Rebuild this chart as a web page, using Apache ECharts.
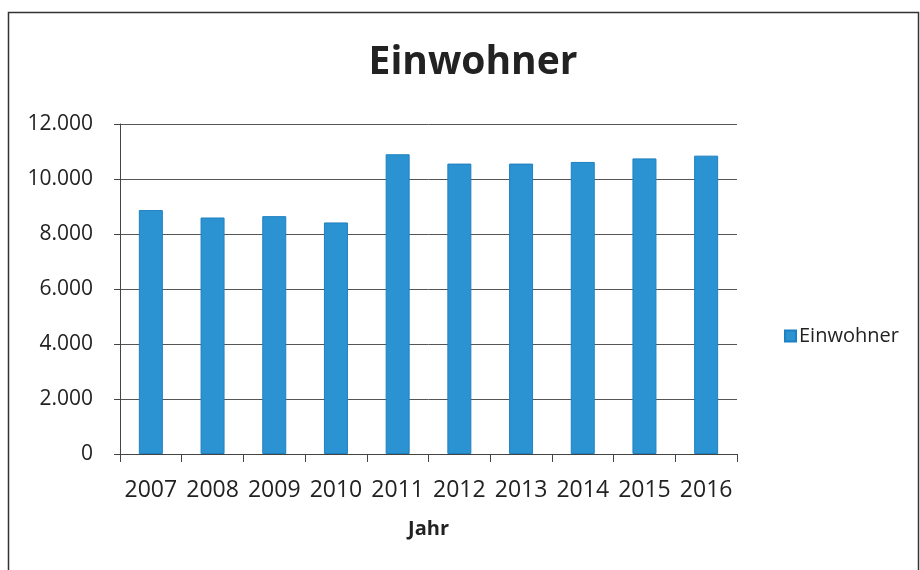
<!DOCTYPE html>
<html><head><meta charset="utf-8">
<script src="https://cdn.jsdelivr.net/npm/echarts@6/dist/echarts.min.js"></script>
<style>html,body{margin:0;padding:0;background:#fff}#c{width:920px;height:570px}</style>
</head><body><div id="c"></div>
<script>
const categories = ['2007','2008','2009','2010','2011','2012','2013','2014','2015','2016'];
const einwohner = [8870, 8600, 8650, 8420, 10900, 10560, 10560, 10620, 10750, 10850];
const seriesName = 'Einwohner';

const chart = echarts.init(document.getElementById('c'));
const font = '"Open Sans", Lato, sans-serif';
chart.setOption({
  animation: false,
  backgroundColor: '#fff',
  title: {text: 'Einwohner', left: 468, top: 38, textAlign: 'center',
    textStyle: {fontFamily: font, fontSize: 39, fontWeight: 'bold', color: '#222'}},
  legend: {left: 779, top: 321, itemWidth: 11, itemHeight: 11, itemGap: 5, icon: 'rect',
    textStyle: {fontFamily: font, fontSize: 20, color: '#222', padding: [0,0,0,-2]}},
  grid: {left: 120, right: 183, top: 124, bottom: 116},
  xAxis: {type: 'category', data: categories, name: 'Jahr', nameLocation: 'middle', nameGap: 65,
    nameTextStyle: {fontFamily: font, fontSize: 20, fontWeight: 'bold', color: '#222'},
    axisLine: {lineStyle: {color: '#444', width: 1}},
    axisTick: {show: true, length: 8, lineStyle: {color: '#444'}},
    axisLabel: {interval: 0, fontFamily: font, fontSize: 23, color: '#222', margin: 25}},
  yAxis: {type: 'value', min: 0, max: 12000, interval: 2000,
    axisLine: {show: true, lineStyle: {color: '#444'}},
    axisTick: {show: true, length: 6, lineStyle: {color: '#444'}},
    splitLine: {lineStyle: {color: '#555', width: 1}},
    axisLabel: {fontFamily: font, fontSize: 21, color: '#222', margin: 27,
      formatter: v => v === 0 ? '0' : v.toLocaleString('de-DE')}},
  series: [{name: seriesName, type: 'bar', data: einwohner, barWidth: 24,
    itemStyle: {color: '#2c93d3', borderColor: '#1f80c0', borderWidth: 1}}],
  graphic: [{type: 'rect', shape: {x: 8.5, y: 12.5, width: 910, height: 570},
    style: {fill: 'none', stroke: '#333', lineWidth: 1.5}, silent: true}]
});
</script></body></html>
